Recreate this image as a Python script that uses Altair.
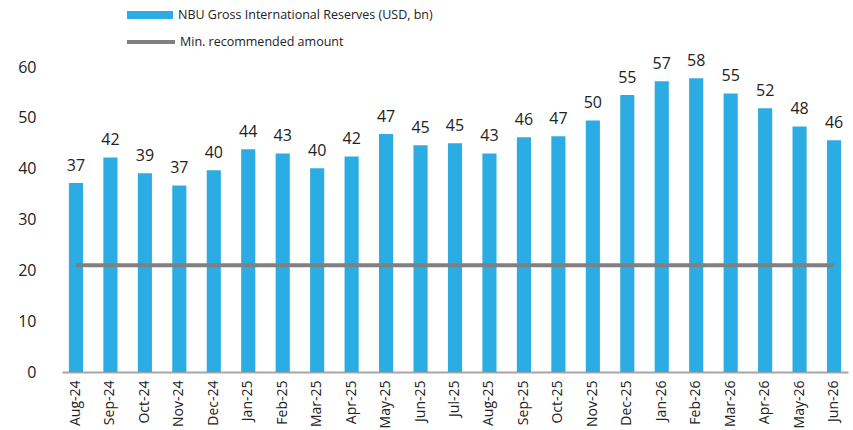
import altair as alt
import pandas as pd

months = ["Aug-24", "Sep-24", "Oct-24", "Nov-24", "Dec-24", "Jan-25", "Feb-25", "Mar-25",
          "Apr-25", "May-25", "Jun-25", "Jul-25", "Aug-25", "Sep-25", "Oct-25", "Nov-25",
          "Dec-25", "Jan-26", "Feb-26", "Mar-26", "Apr-26", "May-26", "Jun-26"]
reserves = [37.2, 42.2, 39.1, 36.7, 39.7, 43.8, 43.0, 40.1, 42.4, 46.8, 44.6, 45.0,
            43.0, 46.2, 46.4, 49.5, 54.5, 57.2, 57.8, 54.8, 51.9, 48.3, 45.6]
labels = ["37", "42", "39", "37", "40", "44", "43", "40", "42", "47", "45", "45",
          "43", "46", "47", "50", "55", "57", "58", "55", "52", "48", "46"]
min_amount = [21.0] * len(months)

S1 = "NBU Gross International Reserves (USD, bn)"
S2 = "Min. recommended amount"

df = pd.DataFrame({"month": months, "value": reserves, "label": labels,
                   "minv": min_amount, "s1": S1, "s2": S2})

BLUE = "#2BACE2"
GRAY = "#808080"
FONT = "Open Sans"

x = alt.X("month:N", sort=months, title=None,
          scale=alt.Scale(paddingInner=0.59, paddingOuter=0.2),
          axis=alt.Axis(labelAngle=-90, labelFont=FONT, labelFontSize=14, labelColor="#222222",
                        ticks=False, domainColor="#A6A6A6", domainWidth=2, labelPadding=8))
y_axis = alt.Axis(values=[0, 10, 20, 30, 40, 50, 60], labelFont=FONT, labelFontSize=16,
                  labelColor="#222222", ticks=False, domain=False, grid=False, labelPadding=26)

base = alt.Chart(df)

bars = base.mark_bar().encode(
    x=x,
    y=alt.Y("value:Q", title=None, scale=alt.Scale(domain=[0, 60], nice=False), axis=y_axis),
    fill=alt.Fill("s1:N", title=None,
                  scale=alt.Scale(domain=[S1], range=[BLUE]),
                  legend=alt.Legend(orient="none", legendX=65, legendY=-75, padding=0,
                                    symbolType="M-1,-0.17L1,-0.17L1,0.17L-1,0.17Z",
                                    symbolSize=2116, symbolStrokeWidth=0,
                                    labelFont=FONT, labelFontSize=12.5, labelColor="#222222",
                                    labelOffset=5, labelLimit=400)),
)

text = base.mark_text(baseline="alphabetic", dy=-12, font=FONT, fontSize=16, color="#222222").encode(
    x=alt.X("month:N", sort=months),
    y=alt.Y("value:Q"),
    text="label:N",
)

line = base.mark_line(strokeWidth=4).encode(
    x=alt.X("month:N", sort=months),
    y=alt.Y("minv:Q"),
    stroke=alt.Stroke("s2:N", title=None,
                      scale=alt.Scale(domain=[S2], range=[GRAY]),
                      legend=alt.Legend(orient="none", legendX=63, legendY=-51, padding=0,
                                        symbolType="stroke", symbolSize=2304,
                                        symbolStrokeWidth=4, symbolStrokeColor=GRAY,
                                        labelFont=FONT, labelFontSize=12.5, labelColor="#222222",
                                        labelOffset=3, labelLimit=400)),
)

chart = alt.layer(bars, line, text).properties(
    width=786, height=305,
    background="white",
    autosize=alt.AutoSizeParams(type="none"),
    padding={"left": 62, "top": 67, "right": 5, "bottom": 58},
).configure_view(stroke=None, strokeWidth=0)

chart.save("out.html", embed_options={"renderer": "svg", "actions": False})
